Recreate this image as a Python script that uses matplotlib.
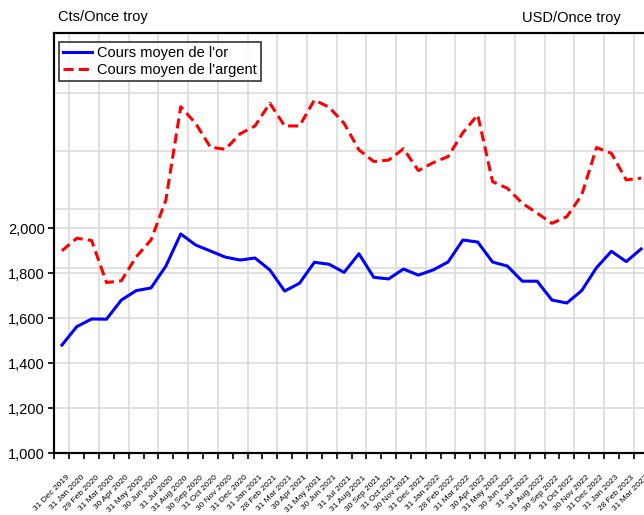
import numpy as np
import matplotlib
matplotlib.use('Agg')
import matplotlib.pyplot as plt
from matplotlib.transforms import ScaledTranslation

plt.rcParams['font.family'] = ['Liberation Sans', 'DejaVu Sans']

# mois (fin de mois)
dates = ['31 Dec 2019', '31 Jan 2020', '29 Feb 2020', '31 Mar 2020', '30 Apr 2020',
         '31 May 2020', '30 Jun 2020', '31 Jul 2020', '31 Aug 2020', '30 Sep 2020',
         '31 Oct 2020', '30 Nov 2020', '31 Dec 2020', '31 Jan 2021', '28 Feb 2021',
         '31 Mar 2021', '30 Apr 2021', '31 May 2021', '30 Jun 2021', '31 Jul 2021',
         '31 Aug 2021', '30 Sep 2021', '31 Oct 2021', '30 Nov 2021', '31 Dec 2021',
         '31 Jan 2022', '28 Feb 2022', '31 Mar 2022', '30 Apr 2022', '31 May 2022',
         '30 Jun 2022', '31 Jul 2022', '31 Aug 2022', '30 Sep 2022', '31 Oct 2022',
         '30 Nov 2022', '31 Dec 2022', '31 Jan 2023', '28 Feb 2023', '31 Mar 2023']

# cours moyen de l'or (axe gauche)
gold = [1481, 1563, 1597, 1596, 1681, 1723, 1735, 1832, 1975, 1926,
        1899, 1872, 1859, 1868, 1815, 1721, 1756, 1849, 1840, 1804,
        1887, 1782, 1775, 1819, 1792, 1815, 1850, 1948, 1939, 1850,
        1832, 1765, 1765, 1681, 1668, 1723, 1825, 1898, 1852, 1908]

# cours moyen de l'argent (axe droit)
silver = [20.58, 21.01, 20.93, 19.49, 19.55, 20.37, 20.95, 22.32, 25.52, 24.95,
          24.13, 24.06, 24.59, 24.86, 25.64, 24.86, 24.86, 25.75, 25.50, 24.95,
          24.04, 23.64, 23.69, 24.08, 23.33, 23.60, 23.81, 24.63, 25.24, 22.95,
          22.72, 22.21, 21.87, 21.52, 21.75, 22.49, 24.12, 23.92, 23.01, 23.07]

left_ticks = [1000, 1200, 1400, 1600, 1800, 2000]
right_ticks = [20, 22, 24, 26]

x = np.arange(len(dates))
grid_col = '#d9d9d9'

fig = plt.figure(figsize=(6.44, 5.15), dpi=100)
ax = fig.add_axes([54.5/644, 61.7/515, 594/644, 420/515])
ax2 = ax.twinx()

# axe droit derriere, sans fond
ax.set_zorder(ax2.get_zorder() + 1)
ax.patch.set_visible(False)

ax.set_xlim(-0.5, len(dates) - 0.5)
ax.set_ylim(1000, 2866.7)
ax2.set_ylim(13.633, 28.038)

ax.set_yticks(left_ticks)
ax.set_yticklabels([f'{v:,}' for v in left_ticks])
ax2.set_yticks(right_ticks)
# les etiquettes de droite sont hors de l'image
ax2.tick_params(axis='y', labelright=False, direction='out', length=4, width=1.2)

# grille
ax.grid(axis='y', color=grid_col, lw=1.1, zorder=0)
ax2.grid(axis='y', color=grid_col, lw=1.1)
bounds = np.arange(-0.5, len(dates), 1.0)
for b in bounds[1::2]:
    ax.axvline(b, color=grid_col, lw=1.1, zorder=0)

ax.set_xticks(bounds)
ax.set_xticklabels([])
ax.set_xticks(x, dates, minor=True)
ax.tick_params(axis='x', which='major', direction='out', length=4.5, width=1.2)
ax.tick_params(axis='x', which='minor', length=0, pad=15, labelsize=6.0)
for lab in ax.get_xticklabels(minor=True):
    lab.set_rotation(45)
    lab.set_ha('right')
    lab.set_va('top')
    lab.set_rotation_mode('anchor')
    lab.set_transform(lab.get_transform() + ScaledTranslation(4/100, 0, fig.dpi_scale_trans))

ax.tick_params(axis='y', direction='out', length=4, width=1.2, labelsize=10.5, pad=3)

for a in (ax, ax2):
    for sp in a.spines.values():
        sp.set_linewidth(1.5)

ax.plot(x, gold, color='#0000ff', lw=2.2, label="Cours moyen de l'or", zorder=3)
ax.plot(x, silver, color='#ff0000', lw=2.2, dashes=(3.3, 1.7),
        transform=ax2.transData, label="Cours moyen de l'argent", zorder=3)

leg = ax.legend(loc='upper left', bbox_to_anchor=(4.5/594, 1 - 8.4/420), borderaxespad=0,
                fontsize=10.5, frameon=True, fancybox=False, handlelength=1.95,
                handletextpad=0.35, labelspacing=0.2, borderpad=0.3)
leg.get_frame().set_edgecolor('black')
leg.get_frame().set_linewidth(1.2)

fig.text(58/644, 1 - 17/515, 'Cts/Once troy', fontsize=10.5, va='center', ha='left')
fig.text(522/644, 1 - 18/515, 'USD/Once troy', fontsize=10.5, va='center', ha='left')

fig.savefig('out.png', dpi=100)
